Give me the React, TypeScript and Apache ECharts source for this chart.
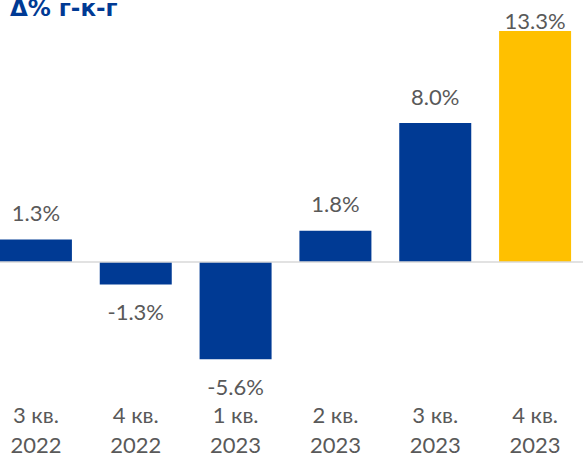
import React, { useEffect, useRef } from "react";
import * as echarts from "echarts";

const quarters = ["3 кв.\n2022", "4 кв.\n2022", "1 кв.\n2023", "2 кв.\n2023", "3 кв.\n2023", "4 кв.\n2023"];
const values = [1.3, -1.3, -5.6, 1.8, 8.0, 13.3];
const highlightIndex = 5;
const title = "Δ% г-к-г";

const BLUE = "#003A94";
const YELLOW = "#FFC000";
const TEXT = "#595959";
const FONT = "Lato, 'DejaVu Sans', sans-serif";

export default function App() {
  const ref = useRef<HTMLDivElement>(null);
  useEffect(() => {
    if (!ref.current) return;
    const chart = echarts.init(ref.current, null, { renderer: "svg" });
    const data = values.map((v, i) => ({
      value: v,
      itemStyle: { color: i === highlightIndex ? YELLOW : BLUE },
      label: {
        position: v >= 0 ? "top" : "bottom",
        distance: i === highlightIndex ? -1 : 16,
      },
    }));
    chart.setOption({
      animation: false,
      title: {
        text: title,
        left: 24,
        top: -4,
        padding: 0,
        textStyle: { color: BLUE, fontSize: 23, fontWeight: "bold", fontFamily: "'DejaVu Sans', sans-serif" },
      },
      grid: { left: 0, right: 0, top: 18.8, bottom: 72.4, containLabel: false, outerBoundsMode: "none" },
      xAxis: {
        type: "category",
        data: quarters,
        position: "bottom",
        axisLine: { show: false, onZero: false },
        axisTick: { show: false },
        axisLabel: {
          color: TEXT,
          fontSize: 22,
          lineHeight: 30,
          fontFamily: FONT,
          margin: 15.5,
          interval: 0,
        },
      },
      yAxis: {
        type: "value",
        min: -7,
        max: 14,
        show: false,
        splitLine: { show: false },
      },
      series: [
        {
          type: "bar",
          data,
          barWidth: 72,
          label: {
            show: true,
            color: TEXT,
            fontSize: 22,
            fontFamily: FONT,
            formatter: (p: any) => p.value.toFixed(1) + "%",
          },
          markLine: {
            silent: true,
            symbol: "none",
            label: { show: false },
            lineStyle: { color: "#D9D9D9", width: 1.5, type: "solid" },
            data: [{ yAxis: 0 }],
          },
        },
      ],
    });
    return () => chart.dispose();
  }, []);
  return (
    <div style={{ position: "fixed", left: 0, top: 0, width: 583, height: 456, overflow: "hidden", background: "#fff" }}>
      <div ref={ref} style={{ position: "absolute", left: -14, top: 0, width: 599, height: 456 }} />
    </div>
  );
}
